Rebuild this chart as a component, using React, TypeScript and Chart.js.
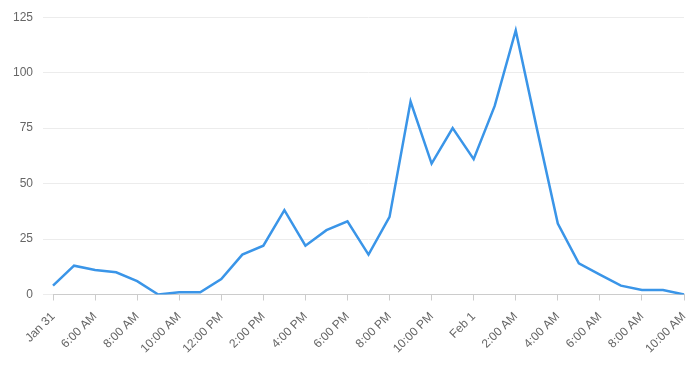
import React, { useEffect, useRef } from "react";
import { Chart, registerables } from "chart.js";

Chart.register(...registerables);

const hourLabels: string[] = [
  "Jan 31", "5:00 AM", "6:00 AM", "7:00 AM", "8:00 AM", "9:00 AM", "10:00 AM", "11:00 AM",
  "12:00 PM", "1:00 PM", "2:00 PM", "3:00 PM", "4:00 PM", "5:00 PM", "6:00 PM", "7:00 PM",
  "8:00 PM", "9:00 PM", "10:00 PM", "11:00 PM", "Feb 1", "1:00 AM", "2:00 AM", "3:00 AM",
  "4:00 AM", "5:00 AM", "6:00 AM", "7:00 AM", "8:00 AM", "9:00 AM", "10:00 AM",
];

const counts: number[] = [
  4, 13, 11, 10, 6, 0, 1, 1, 7, 18, 22, 38, 22, 29, 33, 18,
  35, 87, 59, 75, 61, 85, 119, 75, 32, 14, 9, 4, 2, 2, 0,
];

const yTicks: number[] = [0, 25, 50, 75, 100, 125];

const FONT = "Helvetica, Arial, 'Liberation Sans', sans-serif";

export default function App() {
  const ref = useRef<HTMLCanvasElement | null>(null);

  useEffect(() => {
    document.body.style.margin = "0";
    if (!ref.current) return;
    const chart = new Chart(ref.current, {
      type: "line",
      data: {
        labels: hourLabels,
        datasets: [
          {
            data: counts,
            borderColor: "#3a95e8",
            backgroundColor: "#3a95e8",
            borderWidth: 2.5,
            pointRadius: 0,
            tension: 0,
            fill: false,
          },
        ],
      },
      options: {
        responsive: false,
        animation: false,
        layout: { padding: { left: 3, top: 17, right: 0, bottom: 0 } },
        plugins: { legend: { display: false }, tooltip: { enabled: false } },
        scales: {
          x: {
            type: "category",
            offset: false,
            afterBuildTicks: (scale: any) => {
              scale.ticks = scale.ticks.filter((t: any) => t.value % 2 === 0);
            },
            afterFit: (scale: any) => {
              scale.paddingRight = 10;
            },
            grid: {
              drawOnChartArea: false,
              drawTicks: true,
              tickLength: 6,
              color: "#cccccc",
            },
            border: { display: true, color: "#cccccc", width: 1 },
            ticks: {
              autoSkip: false,
              maxRotation: 45,
              minRotation: 45,
              padding: 9,
              color: "#666666",
              font: { family: FONT, size: 12 },
            },
          },
          y: {
            min: 0,
            max: 125,
            afterBuildTicks: (scale: any) => {
              scale.ticks = yTicks.map((v) => ({ value: v }));
            },
            grid: {
              color: "#ececec",
              drawTicks: true,
              tickLength: 10,
            },
            border: { display: false },
            ticks: {
              stepSize: 25,
              padding: 10,
              color: "#666666",
              font: { family: FONT, size: 12 },
            },
          },
        },
      },
    });
    return () => chart.destroy();
  }, []);

  return (
    <div style={{ width: 694, height: 365 }}>
      <canvas ref={ref} width={694} height={365} style={{ display: "block" }} />
    </div>
  );
}
